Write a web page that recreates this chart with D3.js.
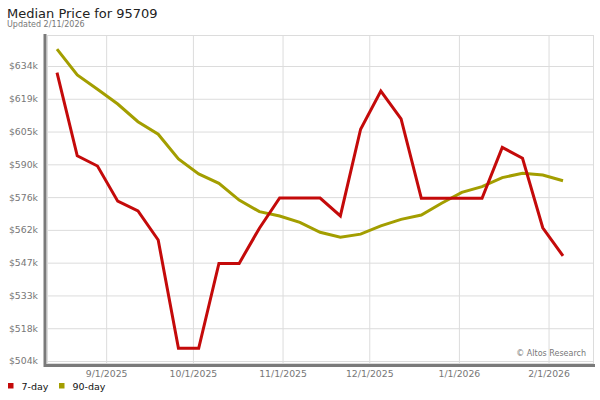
<!DOCTYPE html>
<meta charset="utf-8">
<html>
  <head>
    <title>Median Price for 95709</title>
    <style>
      body { margin: 0; background: #fff; }
      svg { font-family: "DejaVu Sans", Verdana, sans-serif; }
      .title { font-size: 13px; fill: #222; }
      .updated { font-size: 8px; fill: #777; }
      .axis text { font-size: 9.3px; fill: #777; font-family: "DejaVu Sans", Verdana, sans-serif; }
      .axis line { stroke: #dcdcdc; }
      .axis .domain { display: none; }
      .legend text { font-size: 9.5px; fill: #111; }
      .credit { font-size: 8px; fill: #777; }
    </style>
    <script src="https://cdn.jsdelivr.net/npm/d3@7"></script>
  </head>
  <body>
    <div id="chart"></div>
    <script type="text/javascript">
    // weekly points
    var dates = ["2025-08-15", "2025-08-22", "2025-08-29", "2025-09-05", "2025-09-12", "2025-09-19",
                 "2025-09-26", "2025-10-03", "2025-10-10", "2025-10-17", "2025-10-24", "2025-10-31",
                 "2025-11-07", "2025-11-14", "2025-11-21", "2025-11-28", "2025-12-05", "2025-12-12",
                 "2025-12-19", "2025-12-26", "2026-01-02", "2026-01-09", "2026-01-16", "2026-01-23",
                 "2026-01-30", "2026-02-06"];
    var sevenDay = [630800, 594200, 589700, 574200, 569900, 557100, 509400, 509400, 546800, 546800,
                    562300, 575600, 575600, 575600, 567700, 605900, 622700, 610500, 575500, 575500,
                    575500, 575500, 597900, 593100, 562500, 550100];
    var ninetyDay = [641200, 629800, 623500, 617000, 609200, 603700, 592800, 586200, 582100, 574700,
                     569600, 567700, 564900, 560500, 558300, 559700, 563300, 566200, 568100, 573300,
                     578100, 580600, 584600, 586500, 585700, 583200];
    var monthTicks = ["2025-09-01", "2025-10-01", "2025-11-01", "2025-12-01", "2026-01-01", "2026-02-01"];
    var yTicks = [503800, 518240, 532680, 547120, 561560, 576000, 590440, 604880, 619320, 633760];

    var series = [
      { name: "7-day", color: "#c40a0a", values: sevenDay },
      { name: "90-day", color: "#a39e00", values: ninetyDay }
    ];

    var width = 600, height = 400;
    var plot = { left: 47, right: 593, top: 35, bottom: 363 };

    var parse = d3.timeParse("%Y-%m-%d");
    var dateObjs = dates.map(parse);

    var x = d3.scaleTime()
      .domain(d3.extent(dateObjs))
      .range([57, 563]);

    var y = d3.scaleLinear()
      .domain([yTicks[0], yTicks[yTicks.length - 1]])
      .range([361, 66]);

    var svg = d3.select("#chart").append("svg")
      .attr("width", width)
      .attr("height", height);

    svg.append("text").attr("class", "title")
      .attr("x", 7).attr("y", 18)
      .text("Median Price for 95709");
    svg.append("text").attr("class", "updated")
      .attr("x", 7).attr("y", 27)
      .text("Updated 2/11/2026");

    // plot border
    svg.append("rect")
      .attr("x", plot.left + 0.5).attr("y", plot.top + 0.5)
      .attr("width", plot.right - plot.left).attr("height", plot.bottom - plot.top)
      .attr("fill", "#fff").attr("stroke", "#dcdcdc");

    // y gridlines + labels
    svg.append("g")
      .attr("class", "axis")
      .attr("transform", "translate(" + plot.left + ",0)")
      .call(d3.axisLeft(y)
        .tickValues(yTicks)
        .tickSize(-(plot.right - plot.left))
        .tickPadding(9)
        .tickFormat(function (d) { return "$" + Math.round(d / 1000) + "k"; }));

    // x gridlines + labels
    svg.append("g")
      .attr("class", "axis")
      .attr("transform", "translate(0," + plot.bottom + ")")
      .call(d3.axisBottom(x)
        .tickValues(monthTicks.map(parse))
        .tickSize(-(plot.bottom - plot.top))
        .tickPadding(7)
        .tickFormat(d3.timeFormat("%-m/%-d/%Y")));

    // dark axis lines
    svg.append("line")
      .attr("x1", 45).attr("x2", 45).attr("y1", 34).attr("y2", 367)
      .attr("stroke", "#7a7a7a").attr("stroke-width", 3);
    svg.append("line")
      .attr("x1", 44).attr("x2", 595).attr("y1", 365.5).attr("y2", 365.5)
      .attr("stroke", "#7a7a7a").attr("stroke-width", 3);

    svg.append("text").attr("class", "credit")
      .attr("x", 586).attr("y", 356)
      .attr("text-anchor", "end")
      .text("\u00a9 Altos Research");

    var line = d3.line()
      .x(function (d, i) { return x(dateObjs[i]); })
      .y(function (d) { return y(d); });

    // draw 90-day first so 7-day sits on top
    svg.selectAll(".series")
      .data(series.slice().reverse())
      .enter()
      .append("path")
      .attr("class", "series")
      .attr("fill", "none")
      .attr("stroke", function (d) { return d.color; })
      .attr("stroke-width", 3)
      .attr("stroke-linejoin", "miter")
      .attr("d", function (d) { return line(d.values); });

    // legend
    var legendX = [8, 59];
    var legend = svg.selectAll(".legend")
      .data(series)
      .enter()
      .append("g")
      .attr("class", "legend")
      .attr("transform", function (d, i) { return "translate(" + legendX[i] + ",0)"; });

    legend.append("rect")
      .attr("x", 0).attr("y", 383)
      .attr("width", 5.5).attr("height", 5.5)
      .attr("fill", function (d) { return d.color; });

    legend.append("text")
      .attr("x", 13.5).attr("y", 389.5)
      .text(function (d) { return d.name; });
    </script>
  </body>
</html>
